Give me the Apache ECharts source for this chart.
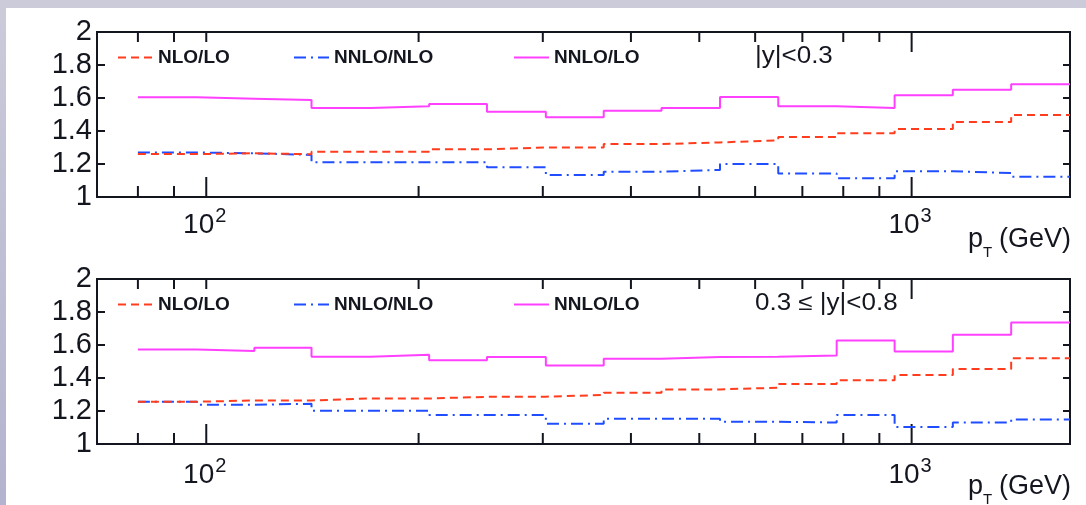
<!DOCTYPE html>
<html>
<head>
<meta charset="utf-8">
<script src="https://cdn.jsdelivr.net/npm/echarts@6/dist/echarts.min.js"></script>
<style>
  html, body { margin: 0; padding: 0; width: 1086px; height: 505px; overflow: hidden;
    background: linear-gradient(#cbcbda, #b3b3cf); }
  #paper { position: absolute; left: 6px; top: 8px; right: 0; bottom: 0; background: #fff; }
  #chart { position: absolute; left: 0; top: 0; width: 1086px; height: 505px; }
</style>
</head>
<body>
<div id="paper"></div>
<div id="chart"></div>
<script>
// pT bin edges (GeV), shared by both rapidity slices
const binEdges = [80, 97, 117, 141, 171, 207, 250, 303, 366, 442, 535, 647, 783, 946, 1144, 1384, 1677];

// |y| < 0.3
const central_nloLo   = [1.260, 1.265, 1.259, 1.275, 1.275, 1.289, 1.300, 1.300, 1.321, 1.331, 1.343, 1.364, 1.386, 1.412, 1.455, 1.497];
const central_nnloNlo = [1.270, 1.265, 1.255, 1.210, 1.210, 1.210, 1.180, 1.133, 1.153, 1.164, 1.200, 1.143, 1.113, 1.156, 1.145, 1.123];
const central_nnloLo  = [1.604, 1.596, 1.588, 1.539, 1.550, 1.563, 1.517, 1.483, 1.523, 1.539, 1.606, 1.550, 1.539, 1.616, 1.650, 1.683];

// 0.3 <= |y| < 0.8
const forward_nloLo   = [1.256, 1.264, 1.264, 1.276, 1.276, 1.286, 1.287, 1.297, 1.311, 1.331, 1.341, 1.364, 1.386, 1.418, 1.454, 1.519];
const forward_nnloNlo = [1.256, 1.238, 1.244, 1.202, 1.202, 1.176, 1.176, 1.123, 1.153, 1.153, 1.135, 1.130, 1.176, 1.103, 1.131, 1.149];
const forward_nnloLo  = [1.572, 1.564, 1.584, 1.529, 1.541, 1.507, 1.527, 1.476, 1.517, 1.527, 1.529, 1.537, 1.628, 1.561, 1.662, 1.737];

const seriesNames = ['NLO/LO', 'NNLO/NLO', 'NNLO/LO'];
const panelLabels = ['|y|<0.3', '0.3 \u2264 |y|<0.8'];
const yTickStep = 0.2;
const xTickValues = [80, 90, 100, 200, 300, 400, 500, 600, 700, 800, 900, 1000];

const FONT = 'Liberation Sans, Arial, Helvetica, sans-serif';
const INK = '#14161f';
const isDecade = v => { const l = Math.log10(v); return Math.abs(l - Math.round(l)) < 1e-6; };

// histogram points: one per left edge plus the closing right edge
const stepPoints = vals => binEdges.map((e, i) => [e, vals[Math.min(i, vals.length - 1)]]);

const panels = [
  { top: 32, data: [central_nloLo, central_nnloNlo, central_nnloLo], label: panelLabels[0], labelDrop: 27 },
  { top: 279, data: [forward_nloLo, forward_nnloNlo, forward_nnloLo], label: panelLabels[1], labelDrop: 30 }
];
const PLOT_LEFT = 97, PLOT_W = 973, PLOT_H = 165;

const lineStyles = {
  'NLO/LO':   { color: '#ff3d1e', width: 2, type: [8, 5] },
  'NNLO/NLO': { color: '#1f4dff', width: 2, type: [12, 5, 2, 5] },
  'NNLO/LO':  { color: '#ff40ff', width: 2, type: 'solid' }
};

const grid = [], xAxis = [], yAxis = [], series = [], legend = [], graphic = [];

panels.forEach((p, k) => {
  grid.push({ left: PLOT_LEFT, top: p.top, width: PLOT_W, height: PLOT_H,
    show: true, borderColor: INK, borderWidth: 2, backgroundColor: 'transparent' });

  // log axis; its ticks and 10^n labels are drawn by the custom series below
  xAxis.push({
    type: 'log', logBase: 10, gridIndex: k, min: 70, max: 1677,
    axisLine: { show: false }, axisTick: { show: false }, splitLine: { show: false },
    axisLabel: { show: false }
  });

  const yBase = {
    type: 'value', gridIndex: k, min: 1, max: 2, interval: yTickStep,
    axisLine: { show: false }, splitLine: { show: false }
  };
  yAxis.push(Object.assign({}, yBase, {
    position: 'left',
    axisTick: { show: true, inside: true, length: 8, lineStyle: { color: INK, width: 2 } },
    axisLabel: { fontSize: 29, fontFamily: FONT, color: INK, margin: 5 }
  }));
  yAxis.push(Object.assign({}, yBase, {
    position: 'right',
    axisTick: { show: true, inside: true, length: 7, lineStyle: { color: INK, width: 2 } },
    axisLabel: { show: false }
  }));

  // draw order: dash-dot first, then dashed, then solid on top
  [1, 0, 2].forEach(j => {
    const name = seriesNames[j];
    const ls = lineStyles[name];
    series.push({
      name, type: 'line', xAxisIndex: k, yAxisIndex: 2 * k, step: 'end',
      symbol: 'none', silent: true, animation: false,
      data: stepPoints(p.data[j]),
      itemStyle: { color: ls.color },
      lineStyle: { color: ls.color, width: ls.width, type: ls.type }
    });
  });

  // inward log ticks on the bottom and top edges, plus 10^n labels under decades
  series.push({
    type: 'custom', xAxisIndex: k, yAxisIndex: 2 * k, silent: true, animation: false, clip: false,
    data: xTickValues.map(v => [v, 1]),
    encode: { x: 0, y: 1 },
    renderItem: (params, api) => {
      const v = api.value(0);
      const b = api.coord([v, 1]);
      const t = api.coord([v, 2]);
      const decade = isDecade(v);
      const lb = decade ? 20 : 11;
      const lt = v >= 1000 ? 20 : 10;
      const st = { stroke: INK, lineWidth: 2 };
      const children = [
        { type: 'line', shape: { x1: b[0], y1: b[1], x2: b[0], y2: b[1] - lb }, style: st },
        { type: 'line', shape: { x1: t[0], y1: t[1], x2: t[0], y2: t[1] + lt }, style: st }
      ];
      if (decade) {
        children.push({ type: 'text', x: b[0] + 8, y: b[1] + p.labelDrop + 1,
          style: { text: '10', fontSize: 28, fontFamily: FONT, fill: INK, align: 'right', verticalAlign: 'middle' } });
        children.push({ type: 'text', x: b[0] + 9, y: b[1] + p.labelDrop - 8,
          style: { text: String(Math.round(Math.log10(v))), fontSize: 20, fontFamily: FONT, fill: INK, align: 'left', verticalAlign: 'middle' } });
      }
      return { type: 'group', children };
    }
  });

  // one legend entry per block, spread along the top of each panel
  const legendLeft = [117, 293, 513];
  seriesNames.forEach((name, j) => {
    const ls = lineStyles[name];
    legend.push({
      data: [name], left: legendLeft[j], top: p.top + 16, padding: 0,
      itemWidth: 35, itemHeight: 19, itemGap: 6, selectedMode: false,
      itemStyle: { opacity: 0 },
      lineStyle: { color: ls.color, width: ls.width, type: ls.type },
      textStyle: { fontSize: 19, fontWeight: 'bold', fontFamily: FONT, color: INK }
    });
  });

  graphic.push({
    type: 'text', x: 755, y: p.top + 25, scaleX: 1.13, silent: true,
    style: { text: p.label, fontSize: 23, fontFamily: FONT, fill: INK, verticalAlign: 'middle' }
  });

  // axis title p_T (GeV) with a lowered subscript
  const ty = p.top + PLOT_H + 43;
  graphic.push({
    type: 'group', x: 968, y: ty, silent: true,
    children: [
      { type: 'text', x: 0, y: 0, style: { text: 'p', fontSize: 27, fontFamily: FONT, fill: INK, verticalAlign: 'middle' } },
      { type: 'text', x: 15, y: 13, style: { text: 'T', fontSize: 15, fontFamily: FONT, fill: INK, verticalAlign: 'middle' } },
      { type: 'text', x: 31, y: 0, style: { text: '(GeV)', fontSize: 27, fontFamily: FONT, fill: INK, verticalAlign: 'middle' } }
    ]
  });
});

const chart = echarts.init(document.getElementById('chart'), null, { renderer: 'canvas' });
chart.setOption({
  backgroundColor: 'transparent',
  animation: false,
  grid, xAxis, yAxis, series, legend, graphic
});
</script>
</body>
</html>
